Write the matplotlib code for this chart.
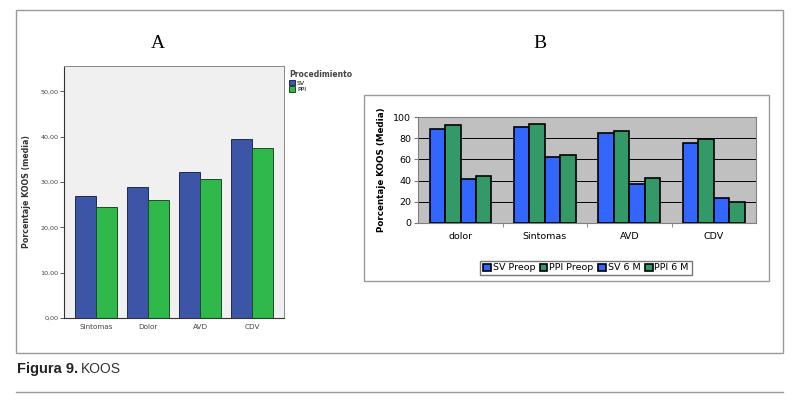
import matplotlib
matplotlib.use("Agg")
import matplotlib.pyplot as plt
from matplotlib.patches import Rectangle
from matplotlib.lines import Line2D
import numpy as np

# ---- data ----
cats_a = ["Sintomas", "Dolor", "AVD", "CDV"]
sv_a = [26.9, 28.8, 32.2, 39.5]
ppi_a = [24.6, 26.0, 30.6, 37.5]
yticks_a = [0, 10, 20, 30, 40, 50]

cats_b = ["dolor", "Sintomas", "AVD", "CDV"]
sv_preop = [89, 91, 85, 76]
ppi_preop = [93, 94, 87, 79]
sv_6m = [41, 62, 37, 23]
ppi_6m = [44, 64, 42, 20]
series_b_names = ["SV Preop", "PPI Preop", "SV 6 M", "PPI 6 M"]
yticks_b = [0, 20, 40, 60, 80, 100]

W, H = 800, 404
fig = plt.figure(figsize=(8, 4.04), dpi=100)

def fx(px): return px / W
def fy(py): return 1 - py / H

# outer frame
fig.patches.append(Rectangle((fx(16), fy(353)), fx(783) - fx(16), fy(10) - fy(353),
                             transform=fig.transFigure, fill=False, edgecolor="#9a9a9a", lw=1.0))
fig.add_artist(Line2D([fx(16), fx(783)], [fy(392), fy(392)], transform=fig.transFigure,
                      color="#9a9a9a", lw=1.0))
# caption
fig.text(fx(17), fy(369), "Figura 9.", fontsize=10.5, fontweight="bold",
         family=["Liberation Sans", "DejaVu Sans"], va="center", ha="left", color="#222222")
fig.text(fx(81), fy(369), "KOOS", fontsize=10, family=["Liberation Sans", "DejaVu Sans"],
         va="center", ha="left", color="#333333")

# titles
fig.text(fx(158), fy(43), "A", fontsize=14, family=["Liberation Serif", "DejaVu Serif"],
         ha="center", va="center")
fig.text(fx(540), fy(43), "B", fontsize=14, family=["Liberation Serif", "DejaVu Serif"],
         ha="center", va="center")

# ---------------- Chart A ----------------
axA = fig.add_axes([fx(64), fy(318), fx(284) - fx(64), fy(66) - fy(318)])
axA.set_facecolor("#f0f0f0")
x = np.arange(len(cats_a))
bw = 0.41
axA.bar(x - bw / 2, sv_a, bw, color="#3d55a6", edgecolor="#1e2a50", lw=0.7, label="SV")
axA.bar(x + bw / 2, ppi_a, bw, color="#2fb94b", edgecolor="#1e4a25", lw=0.7, label="PPI")
axA.set_xlim(-0.614, 3.614)
axA.set_ylim(0, 55.6)
axA.set_yticks(yticks_a)
axA.set_yticklabels([f"{v:.2f}".replace(".", ",") for v in yticks_a], fontsize=4.6, color="#444444")
axA.set_xticks(x)
axA.set_xticklabels(cats_a, fontsize=5.2, color="#444444")
axA.tick_params(axis="x", length=0, pad=4)
axA.tick_params(axis="y", length=3, width=0.6, pad=1, color="#444444")
for s in ["top", "right"]:
    axA.spines[s].set_color("#888888")
    axA.spines[s].set_linewidth(0.7)
for s in ["left", "bottom"]:
    axA.spines[s].set_color("#333333")
    axA.spines[s].set_linewidth(0.8)
axA.set_ylabel("Porcentaje KOOS (media)", fontsize=5.7, fontweight="bold", color="#333333", labelpad=7)
leg = axA.legend(title="Procedimiento", loc="upper left", bbox_to_anchor=(1.005, 1.0),
                 frameon=False, fontsize=4.5, title_fontsize=5.5, handlelength=0.9,
                 handleheight=0.9, handletextpad=0.3, labelspacing=0.1, borderpad=0.2)
leg.get_title().set_fontweight("bold")
leg.get_title().set_color("#444444")
leg._legend_box.align = "left"

# ---------------- Chart B ----------------
fig.patches.append(Rectangle((fx(364), fy(281)), fx(769) - fx(364), fy(95) - fy(281),
                             transform=fig.transFigure, fill=False, edgecolor="#9a9a9a", lw=1.0))
axB = fig.add_axes([fx(418.3), fy(222.7), fx(756) - fx(418.3), fy(117.3) - fy(222.7)])
axB.set_facecolor("#c0c0c0")
xb = np.arange(len(cats_b))
bwb = 0.183
colors_b = ["#3366ff", "#339966", "#3366ff", "#339966"]
for i, (vals, name) in enumerate(zip([sv_preop, ppi_preop, sv_6m, ppi_6m], series_b_names)):
    axB.bar(xb + (i - 1.5) * bwb, vals, bwb, color=colors_b[i], edgecolor="black", lw=1.2,
            label=name, zorder=3)
axB.set_xlim(-0.5, 3.5)
axB.set_ylim(0, 100)
axB.set_yticks(yticks_b)
axB.set_yticklabels([str(v) for v in yticks_b], fontsize=6.8)
axB.yaxis.grid(True, color="black", lw=0.7, zorder=0)
axB.set_axisbelow(True)
axB.set_xticks(xb)
axB.set_xticklabels(cats_b, fontsize=6.8)
axB.set_xticks([0.5, 1.5, 2.5], minor=True)
axB.tick_params(axis="x", which="major", length=0, pad=7)
axB.tick_params(axis="x", which="minor", length=3, color="#777777")
axB.tick_params(axis="y", length=3, color="#777777", pad=2)
for s in axB.spines.values():
    s.set_color("#808080")
    s.set_linewidth(0.8)
axB.set_ylabel("Porcentaje KOOS (Media)", fontsize=6.3, fontweight="bold", labelpad=5)
legB = axB.legend(loc="center", ncol=4, fontsize=6.8,
                  frameon=True, fancybox=False, edgecolor="#555555", handlelength=0.8,
                  handleheight=0.8, handletextpad=0.2, columnspacing=0.5, borderpad=0.3)
legB.set_bbox_to_anchor((fx(586), fy(268)), transform=fig.transFigure)

fig.savefig("out.png", dpi=100)
